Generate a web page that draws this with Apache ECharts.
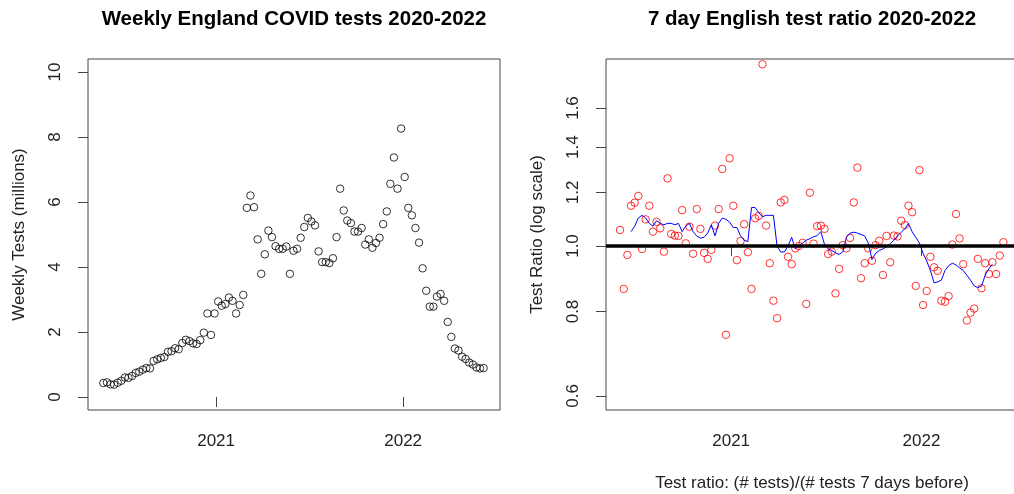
<!DOCTYPE html>
<html>
<head>
<meta charset="utf-8">
<script src="https://cdn.jsdelivr.net/npm/echarts@6/dist/echarts.min.js"></script>
<style>
  html, body { margin: 0; padding: 0; background: #ffffff; }
  #chart { width: 1014px; height: 494px; }
</style>
</head>
<body>
<div id="chart"></div>
<script>
// Weekly England COVID tests (millions), one value per week starting 26 May 2020
const firstWeek = Date.UTC(2020, 4, 26);
const weeklyTests = [
  0.43, 0.45, 0.39, 0.38, 0.44, 0.50, 0.60, 0.59, 0.65, 0.74,
  0.78, 0.84, 0.89, 0.88, 1.11, 1.16, 1.20, 1.23, 1.39, 1.41,
  1.50, 1.47, 1.66, 1.76, 1.72, 1.65, 1.63, 1.75, 1.98, 2.57,
  1.91, 2.57, 2.94, 2.81, 2.86, 3.06, 2.96, 2.57, 2.83, 3.14,
  5.82, 6.20, 5.84, 4.85, 3.79, 4.39, 5.12, 4.92, 4.64, 4.56,
  4.56, 4.63, 3.79, 4.50, 4.56, 4.90, 5.23, 5.51, 5.40, 5.28,
  4.48, 4.15, 4.15, 4.12, 4.27, 4.92, 6.41, 5.74, 5.43, 5.35,
  5.09, 5.09, 5.20, 4.69, 4.85, 4.59, 4.74, 4.90, 5.32, 5.71,
  6.56, 7.37, 6.41, 8.26, 6.77, 5.82, 5.59, 5.20, 4.75, 3.96,
  3.27, 2.78, 2.78, 3.09, 3.17, 2.96, 2.31, 1.85, 1.49, 1.43,
  1.24, 1.17, 1.06, 1.00, 0.91, 0.88, 0.89
];

// Week-on-week test ratio, starting with the second week
const testRatio = [
  1.056, 0.864, 0.970, 1.147, 1.159, 1.186, 0.990, 1.095, 1.147, 1.050,
  1.086, 1.062, 0.981, 1.259, 1.042, 1.036, 1.035, 1.130, 1.009, 1.068,
  0.974, 1.134, 1.060, 0.977, 0.957, 0.987, 1.072, 1.134, 1.300, 0.739,
  1.348, 1.147, 0.953, 1.017, 1.077, 0.979, 0.864, 1.099, 1.108, 1.857,
  1.072, 0.943, 0.830, 0.782, 1.160, 1.170, 0.964, 0.940, 0.992, 1.000,
  1.011, 0.821, 1.199, 1.008, 1.070, 1.072, 1.060, 0.973, 0.981, 0.851,
  0.925, 1.003, 0.992, 1.028, 1.160, 1.306, 0.896, 0.943, 0.992, 0.951,
  1.003, 1.018, 0.906, 1.035, 0.946, 1.036, 1.033, 1.090, 1.074, 1.147,
  1.122, 0.873, 1.295, 0.818, 0.858, 0.964, 0.930, 0.919, 0.830, 0.827,
  0.843, 1.005, 1.115, 1.026, 0.940, 0.776, 0.797, 0.808, 0.957, 0.866,
  0.943, 0.909, 0.946, 0.909, 0.968, 1.013
];

// Smoothed ratio (blue trend), aligned with testRatio weeks
const smoothedRatio = [
  null, null, null,
  1.050, 1.070, 1.100, 1.110, 1.100, 1.080, 1.070, 1.090, 1.080, 1.075,
  1.080, 1.080, 1.075, 1.080, 1.050, 1.070, 1.080, 1.050, 1.035, 1.027,
  1.030, 1.045, 1.075, 1.035, 1.080, 1.100, 1.095, 1.085, 1.065, 1.065,
  1.035, 1.020, 1.015, 1.140, 1.140, 1.120, 1.105, 1.110, 1.110, 1.110,
  1.000, 0.980, 0.980, 1.000, 1.030, 0.990, 1.000, 1.010, 1.020, 1.025,
  1.032, 1.036, 1.050, 1.005, 0.990, 0.985, 0.977, 0.972, 0.980, 1.030,
  1.045, 1.048, 1.045, 1.040, 1.035, 1.010, 0.955, 0.975, 0.985, 0.990,
  0.998, 1.008, 1.020, 1.035, 1.048, 1.060, 1.080, 1.050, 1.030, 1.010,
  0.975, 0.950, 0.920, 0.882, 0.885, 0.890, 0.920, 0.935, 0.943, 0.938,
  0.928, 0.920, 0.905, 0.890, 0.873, 0.868, 0.872, 0.905, 0.925, 0.940,
  null, null, null
];

const yearTicks = [Date.UTC(2021, 0, 1), Date.UTC(2022, 0, 1)];
const testTicks = [0, 2, 4, 6, 8, 10];
const ratioTicks = [0.6, 0.8, 1.0, 1.2, 1.4, 1.6];

const DAY = 86400000;
const weekDate = i => firstWeek + i * 7 * DAY;
const FONT = '"Liberation Sans", Arial, sans-serif';
const TEXT = '#222';
const LINE = '#444';
const AXIS_FONT = 17;
const TITLE_FONT = 20.5;

const testPoints = weeklyTests.map((v, i) => [weekDate(i), v]);
const ratioPoints = testRatio.map((v, i) => [weekDate(i + 1), Math.log(v)]);
const smoothPoints = smoothedRatio.map((v, i) => [weekDate(i + 1), v == null ? null : Math.log(v)]);
const lnRatioTicks = ratioTicks.map(Math.log);

const yearLabel = v => String(new Date(v).getUTCFullYear());

function xAxisFor(gridIndex, min, max, extra) {
  return Object.assign({
    type: 'value', gridIndex, min, max,
    axisLine: { show: false },
    splitLine: { show: false },
    axisTick: { customValues: yearTicks, length: 10, lineStyle: { color: LINE, width: 1 } },
    axisLabel: { customValues: yearTicks, formatter: yearLabel, fontSize: AXIS_FONT, color: TEXT, fontFamily: FONT, margin: 23 }
  }, extra || {});
}

function titleAt(text, center) {
  return {
    text, left: center, top: 9, textAlign: 'center', padding: 0,
    textStyle: { fontSize: TITLE_FONT, fontWeight: 'bold', color: '#000', fontFamily: FONT }
  };
}

function panelGrid(left) {
  return {
    left, top: 59, width: 412, height: 351,
    outerBoundsMode: 'none', containLabel: false,
    show: true, borderColor: LINE, borderWidth: 1, backgroundColor: 'transparent'
  };
}

const chart = echarts.init(document.getElementById('chart'), null, { renderer: 'canvas' });
chart.setOption({
  animation: false,
  backgroundColor: '#ffffff',
  textStyle: { fontFamily: FONT },
  title: [
    titleAt('Weekly England COVID tests 2020-2022', 294),
    titleAt('7 day English test ratio 2020-2022', 812)
  ],
  grid: [panelGrid(88), panelGrid(606)],
  xAxis: [
    xAxisFor(0, Date.UTC(2020, 3, 26), Date.UTC(2022, 6, 9)),
    xAxisFor(1, Date.UTC(2020, 4, 6), Date.UTC(2022, 6, 5), {
      name: 'Test ratio: (# tests)/(# tests 7 days before)',
      nameLocation: 'middle', nameGap: 65,
      nameTextStyle: { fontSize: AXIS_FONT, color: TEXT, fontFamily: FONT }
    })
  ],
  yAxis: [
    {
      type: 'value', gridIndex: 0, min: -0.4, max: 10.4,
      axisLine: { show: false }, splitLine: { show: false },
      axisTick: { customValues: testTicks, length: 10, lineStyle: { color: LINE } },
      axisLabel: { customValues: testTicks, rotate: 90, fontSize: AXIS_FONT, color: TEXT, fontFamily: FONT, margin: 24 },
      name: 'Weekly Tests (millions)', nameLocation: 'middle', nameGap: 60,
      nameTextStyle: { fontSize: AXIS_FONT, color: TEXT, fontFamily: FONT }
    },
    {
      type: 'value', gridIndex: 1, min: -0.5586, max: 0.6369,
      axisLine: { show: false }, splitLine: { show: false },
      axisTick: { customValues: lnRatioTicks, length: 10, lineStyle: { color: LINE } },
      axisLabel: { customValues: lnRatioTicks, rotate: 90, fontSize: AXIS_FONT, color: TEXT, fontFamily: FONT, margin: 24,
        formatter: v => Math.exp(v).toFixed(1) },
      name: 'Test Ratio (log scale)', nameLocation: 'middle', nameGap: 60,
      nameTextStyle: { fontSize: AXIS_FONT, color: TEXT, fontFamily: FONT }
    }
  ],
  series: [
    {
      type: 'scatter', xAxisIndex: 0, yAxisIndex: 0, data: testPoints,
      symbol: 'circle', symbolSize: 7.5, silent: true,
      itemStyle: { color: 'transparent', borderColor: '#000', borderWidth: 1 }
    },
    {
      type: 'scatter', xAxisIndex: 1, yAxisIndex: 1, data: ratioPoints,
      symbol: 'circle', symbolSize: 7.5, silent: true,
      itemStyle: { color: 'transparent', borderColor: '#ff0000', borderWidth: 1 }
    },
    {
      type: 'line', xAxisIndex: 1, yAxisIndex: 1, data: smoothPoints,
      showSymbol: false, connectNulls: false, silent: true,
      lineStyle: { color: '#0000ff', width: 1 },
      markLine: {
        silent: true, symbol: 'none', label: { show: false },
        lineStyle: { color: '#000', width: 3.5, type: 'solid' },
        data: [{ yAxis: 0 }]
      }
    }
  ]
});
</script>
</body>
</html>
